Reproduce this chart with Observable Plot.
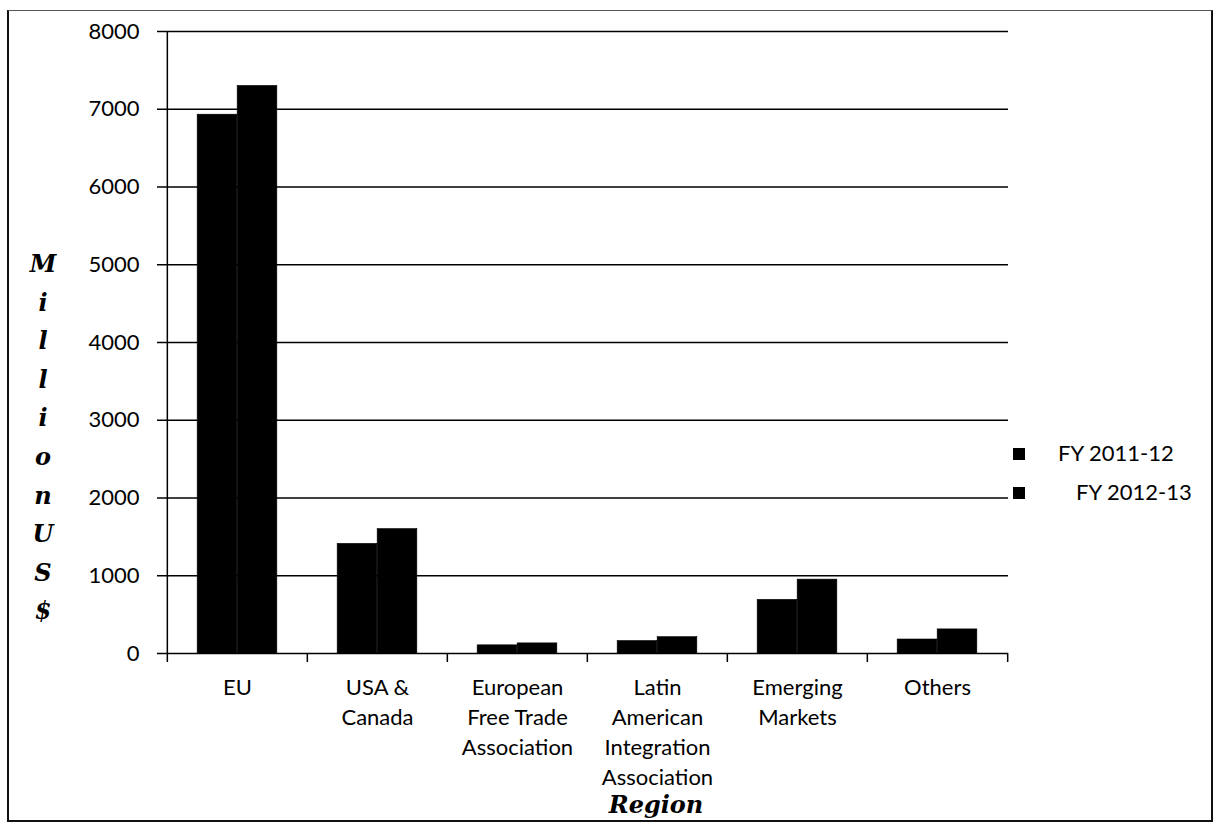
<!DOCTYPE html>
<html>
<head>
<meta charset="utf-8">
<script src="https://cdn.jsdelivr.net/npm/d3@7"></script>
<script src="https://cdn.jsdelivr.net/npm/@observablehq/plot@0.6"></script>
<style>
  html, body { margin: 0; padding: 0; background: #fff; }
  #wrap { position: relative; width: 1220px; height: 826px; overflow: hidden; font-family: Lato, "Open Sans", sans-serif; }
  #wrap svg { position: absolute; left: 0; top: 0; }
  .frame { position: absolute; left: 7px; top: 10px; width: 1206px; height: 812px; border: 2px solid #111; box-sizing: border-box; border-top: 1px solid #555; }
  .ylab { position: absolute; left: 28px; width: 30px; text-align: center; font-family: "DejaVu Serif", serif; font-style: italic; font-weight: bold; font-size: 24px; color: #000; line-height: 1; }
  .xlab { position: absolute; left: 556px; width: 200px; top: 793px; text-align: center; font-family: "DejaVu Serif", serif; font-style: italic; font-weight: bold; font-size: 24px; color: #000; line-height: 1; }
  .leg { position: absolute; font-size: 22px; color: #000; line-height: 1; }
  .sw { position: absolute; width: 12px; height: 12px; background: #000; }
</style>
</head>
<body>
<div id="wrap"></div>
<script>
const categories = ["EU", "USA & Canada", "European Free Trade Association", "Latin American Integration Association", "Emerging Markets", "Others"];
const categoryLabels = ["EU", "USA &\nCanada", "European\nFree Trade\nAssociation", "Latin\nAmerican\nIntegration\nAssociation", "Emerging\nMarkets", "Others"];
const seriesNames = ["FY 2011-12", "FY 2012-13"];
const fy2011_12 = [6930, 1410, 105, 160, 690, 180];
const fy2012_13 = [7300, 1600, 130, 210, 950, 310];
const yTicks = [0, 1000, 2000, 3000, 4000, 5000, 6000, 7000, 8000];
const yLabelLetters = ["M", "i", "l", "l", "i", "o", "n", "U", "S", "$"];

const W = 1220, H = 826;
const mL = 166, mR = 212, mT = 31, mB = 173;
const band = (W - mL - mR) / categories.length;

const data1 = categories.map((c, i) => ({region: c, value: fy2011_12[i]}));
const data2 = categories.map((c, i) => ({region: c, value: fy2012_13[i]}));
const labelOf = new Map(categories.map((c, i) => [c, categoryLabels[i]]));

const barW = 40;
const groupOff = (band - 2 * barW) / 2;

const chart = Plot.plot({
  width: W, height: H,
  marginLeft: mL, marginRight: mR, marginTop: mT, marginBottom: mB,
  style: {fontFamily: "Lato, 'Open Sans', sans-serif", fontSize: "22px", color: "#000", background: "transparent"},
  x: {domain: categories, padding: 0},
  y: {domain: [0, 8000]},
  marks: [
    Plot.ruleY(yTicks, {stroke: "#000", strokeWidth: 1.5}),
    Plot.barY(data1, {x: "region", y: "value", fill: "#000", stroke: "#000", strokeWidth: 0.6, insetLeft: groupOff, insetRight: band - groupOff - barW}),
    Plot.barY(data2, {x: "region", y: "value", fill: "#000", stroke: "#000", strokeWidth: 0.6, insetLeft: groupOff + barW, insetRight: groupOff}),
    Plot.ruleX(categories, {x: d => d, dx: -band / 2, stroke: "#000", strokeWidth: 1.5, insetTop: H - mT - mB, insetBottom: -9}),
    Plot.ruleX(categories.slice(-1), {x: d => d, dx: band / 2, stroke: "#000", strokeWidth: 1.5, insetTop: H - mT - mB, insetBottom: -9}),
    Plot.ruleX(categories.slice(0, 1), {x: d => d, dx: -band / 2, stroke: "#000", strokeWidth: 1.5}),
    Plot.axisY({ticks: yTicks, tickSize: 9, tickPadding: 18, tickFormat: d => String(d), label: null, fontSize: 22, stroke: "#000", strokeWidth: 1.5}),
    Plot.axisX({tickSize: 0, tickPadding: 20, tickFormat: d => labelOf.get(d), label: null, fontSize: 22, lineHeight: 1.36})
  ]
});

const wrap = document.getElementById("wrap");
wrap.appendChild(chart);

const frame = document.createElement("div");
frame.className = "frame";
wrap.appendChild(frame);

yLabelLetters.forEach((ch, i) => {
  const d = document.createElement("div");
  d.className = "ylab";
  d.textContent = ch;
  d.style.top = (252 + i * 38.6) + "px";
  wrap.appendChild(d);
});

const xl = document.createElement("div");
xl.className = "xlab";
xl.textContent = "Region";
wrap.appendChild(xl);

const legPos = [{sx: 1013, tx: 1058, y: 454}, {sx: 1013, tx: 1076, y: 493}];
seriesNames.forEach((s, i) => {
  const sw = document.createElement("div");
  sw.className = "sw";
  sw.style.left = legPos[i].sx + "px";
  sw.style.top = (legPos[i].y - 6) + "px";
  wrap.appendChild(sw);
  const t = document.createElement("div");
  t.className = "leg";
  t.textContent = s;
  t.style.left = legPos[i].tx + "px";
  t.style.top = (legPos[i].y - 12) + "px";
  wrap.appendChild(t);
});
</script>
</body>
</html>
